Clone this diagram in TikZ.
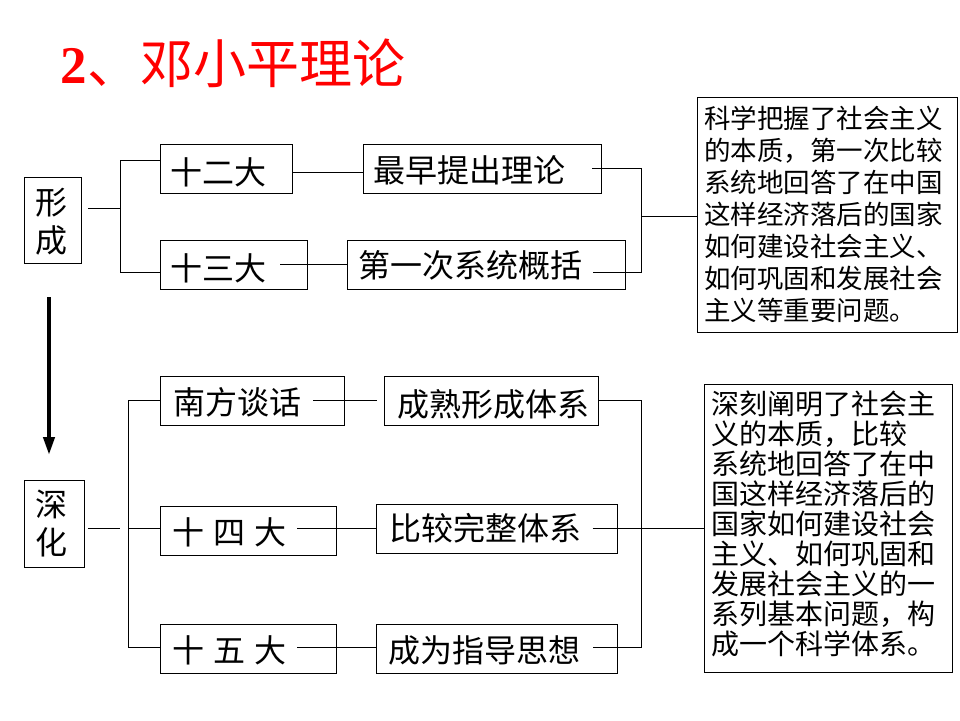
\documentclass[tikz,border=0pt]{standalone}
\usepackage{fontspec}
\usetikzlibrary{arrows.meta}
\newfontfamily\cjk{Noto Sans CJK SC}
\newfontfamily\tnr{Liberation Serif}
\definecolor{titlered}{HTML}{FF0000}
\tikzset{
  bx/.style={draw=black, line width=1pt, inner sep=0pt, outer sep=0pt, rectangle},
  conn/.style={draw=black, line width=1pt},
  lbl/.style={inner sep=0pt, anchor=base west, font=\cjk\fontsize{32}{38}\selectfont},
  rta/.style={inner sep=0pt, anchor=base west, font=\cjk\fontsize{26.5}{32}\selectfont},
  rtb/.style={inner sep=0pt, anchor=base west, font=\cjk\fontsize{28}{30}\selectfont},
}
\newcommand{\mkbox}[5]{\node[bx, minimum width={#4-#2}, minimum height={#5-#3}] (#1) at ({(#2+#4)/2},{(#3+#5)/2}) {};}
\begin{document}
\begin{tikzpicture}[x=1pt,y=-1pt]
\useasboundingbox (0,0) rectangle (960,720);
\fill[white] (0,0) rectangle (960,720);

% title
\node[inner sep=0pt, anchor=base west, text=titlered, font=\fontsize{53}{60}\selectfont] (title) at (60.7,83) {{\tnr\bfseries 2}{\cjk 、邓小平理论}};

% boxes
\mkbox{A}{24}{177}{81}{263}
\mkbox{B}{160}{144}{292}{193}
\mkbox{C}{160}{240}{307}{289}
\mkbox{D}{363}{144}{601}{193}
\mkbox{E}{347}{240}{625}{289}
\mkbox{R1}{697}{97}{957}{332}
\mkbox{F}{24}{480}{84}{567}
\mkbox{G}{160}{376}{344}{425}
\mkbox{H}{160}{506}{336}{555}
\mkbox{I}{160}{624}{336}{673}
\mkbox{J}{384}{376}{598}{425}
\mkbox{K}{376}{504}{617}{553}
\mkbox{L}{376}{624}{617}{673}
\mkbox{R2}{704}{384}{952}{672}

% labels
\node[lbl] (tA1) at (35,214) {形};
\node[lbl] (tA2) at (35,252) {成};
\node[lbl] (tB) at (170,184) {十二大};
\node[lbl] (tC) at (170,280) {十三大};
\node[lbl] (tD) at (373,182) {最早提出理论};
\node[lbl] (tE) at (358,277) {第一次系统概括};
\node[lbl] (tF1) at (35,516) {深};
\node[lbl] (tF2) at (35,554) {化};
\node[lbl] (tG) at (173,414) {南方谈话};
\node[lbl] (tH) at (172,544) {十\hspace{9pt}四\hspace{9pt}大};
\node[lbl] (tI) at (172,662) {十\hspace{9pt}五\hspace{9pt}大};
\node[lbl] (tJ) at (397,416) {成熟形成体系};
\node[lbl] (tK) at (389,540) {比较完整体系};
\node[lbl] (tL) at (388,662) {成为指导思想};

\foreach \t [count=\i] in {科学把握了社会主义,的本质，第一次比较,系统地回答了在中国,这样经济落后的国家,如何建设社会主义、,如何巩固和发展社会,主义等重要问题。}
  \node[rta] (ra\i) at (704,{128.4+32*(\i-1)}) {\t};

\foreach \t [count=\i] in {深刻阐明了社会主,义的本质，比较,系统地回答了在中,国这样经济落后的,国家如何建设社会,主义、如何巩固和,发展社会主义的一,系列基本问题，构,成一个科学体系。}
  \node[rtb] (rb\i) at (711.7,{414+30*(\i-1)}) {\t};

% coordinates
\coordinate (a1) at (88,208);
\coordinate (bA) at (120,160);
\coordinate (bB) at (120,272);
\coordinate (c1) at (280,264);
\coordinate (d1) at (592,168);
\coordinate (dk) at (641,168);
\coordinate (dm) at (641,216);
\coordinate (db) at (641,272.7);
\coordinate (e1) at (593,272.7);
\coordinate (f1) at (88,528.7);
\coordinate (gA) at (128,400);
\coordinate (gM) at (128,528.7);
\coordinate (gB) at (128,647.7);
\coordinate (g1) at (313,400);
\coordinate (g2) at (376.7,400);
\coordinate (h1) at (297,528.7);
\coordinate (i1) at (297,647.7);
\coordinate (jk) at (641,400.7);
\coordinate (jm) at (592.7,528);
\coordinate (jb) at (641,647.7);
\coordinate (l1) at (592.7,647.7);
\coordinate (ar1) at (49,297);
\coordinate (ar2) at (49,455);

% upper connectors
\draw[conn] (a1) -- (a1 -| bA);
\draw[conn] (B.west |- bA) -- (bA) -- (bB) -- (C.west |- bB);
\draw[conn] (B.east |- 0,172) -- (D.west |- 0,172);
\draw[conn] (c1) -- (E.west |- c1);
\draw[conn] (d1) -- (dk) -- (db) -- (e1);
\draw[conn] (dm) -- (R1.west |- dm);

% lower connectors
\draw[conn] (f1) -- ++(32,0);
\draw[conn] (G.west |- gA) -- (gA) -- (gB) -- (I.west |- gB);
\draw[conn] (gM) -- (H.west |- gM);
\draw[conn] (g1) -- (g2);
\draw[conn] (h1) -- (K.west |- h1);
\draw[conn] (i1) -- (L.west |- i1);
\draw[conn] (J.east |- jk) -- (jk) -- (jb) -- (l1);
\draw[conn] (jm) -- (R2.west |- jm);

% arrow
\draw[line width=4pt, -{Triangle[width=11pt,length=18pt]}] (ar1) -- (ar2);
\end{tikzpicture}
\end{document}
